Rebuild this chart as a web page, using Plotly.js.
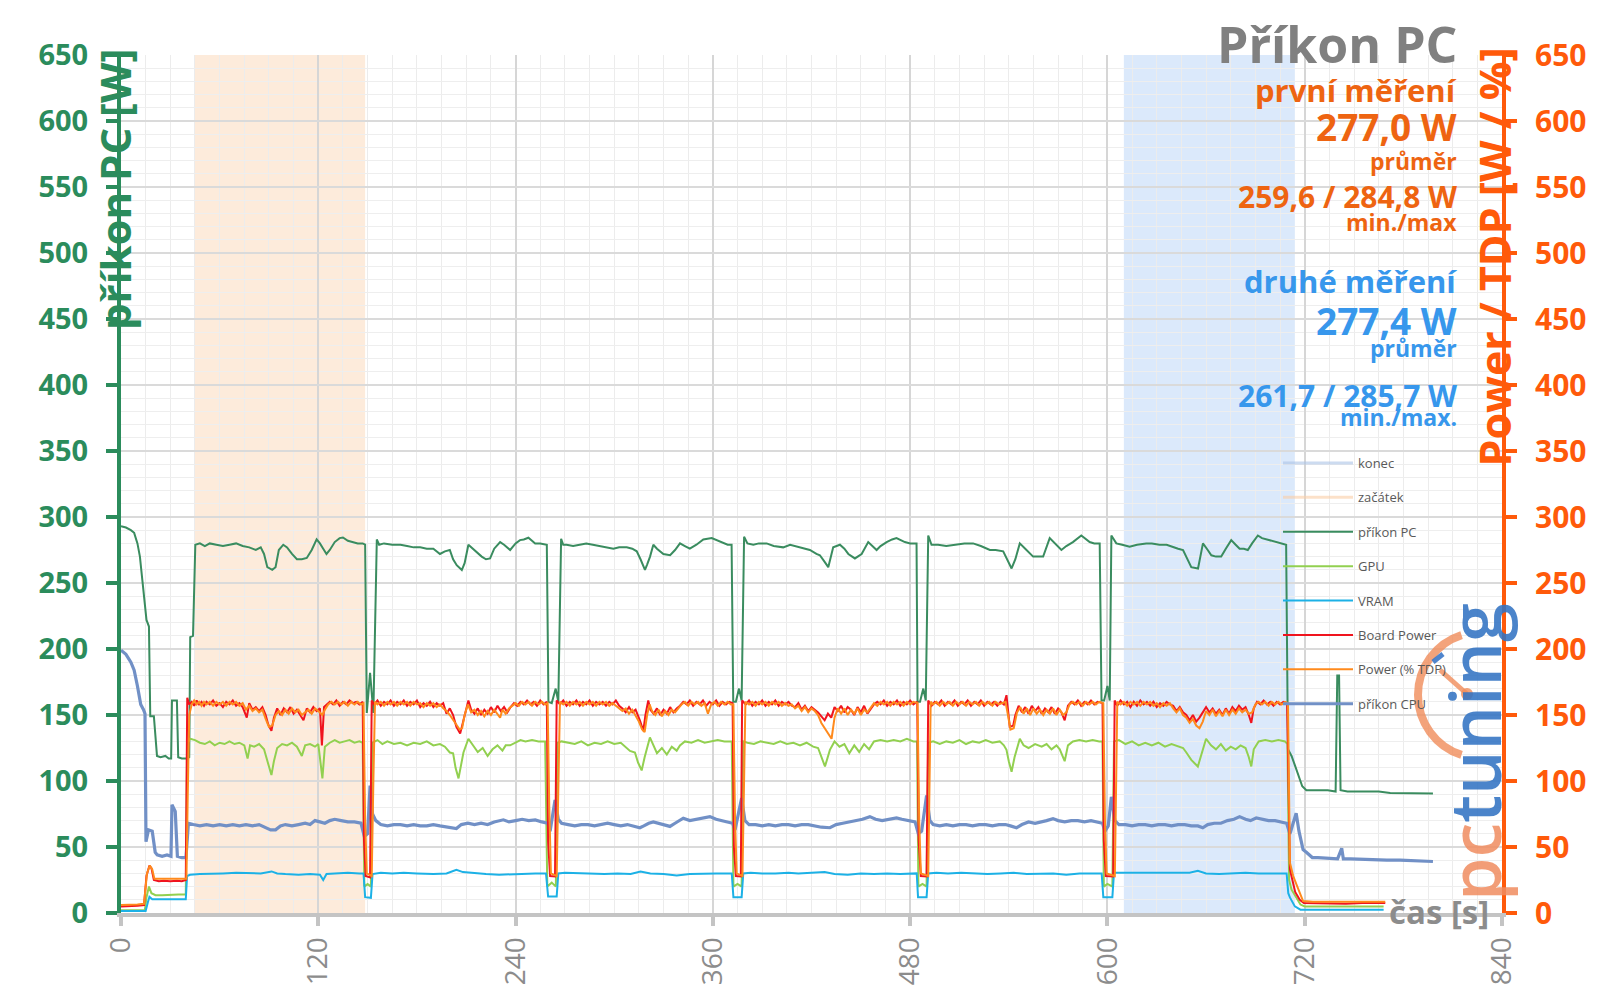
<!DOCTYPE html>
<html>
<head>
<meta charset="utf-8">
<script src="https://cdn.plot.ly/plotly-3.0.1.min.js"></script>
<style>html,body{margin:0;padding:0;background:#fff;}#chart{width:1600px;height:1008px;}</style>
</head>
<body>
<div id="chart"></div>
<script>
// ---------------- DATA ----------------
const seriesNames = ['konec', 'začátek', 'příkon PC', 'GPU', 'VRAM', 'Board Power', 'Power (% TDP)', 'příkon CPU'];
const xTicks = [0, 120, 240, 360, 480, 600, 720, 840];
const yTicks = [0, 50, 100, 150, 200, 250, 300, 350, 400, 450, 500, 550, 600, 650];
const zacatekSpan = [45, 148.5];   // seconds
const konecSpan = [610, 714];      // seconds

// [time s, W]
const pcPower = [[0,293],[3,292],[6,290],[8,288],[10,280],[11.5,270],[13,252],[14.5,234],[15.5,222],[17,217],[17.8,149],[20,149],[21.9,119],[24,118],[27,119],[29,117],[30.5,117],[31,161],[34,161],[34.8,118],[37,117],[40,117],[41.5,118],[42.1,209],[43.8,210],[45.2,279],
[48,280],[51,278],[54,280],[58,279],[62,278],[66,279],[70,280],[74,278],[78,277],[82,275],[85,277],[87,272],[89,262],[92,260],[94,262],[96,275],[98.7,279],[101,277],[104,272],[107,268],[110,268],[113,269],[116,275],[119,283],[121,280],[123,276],[125,272],[127,275],[130,281],[133,284],[135,284.5],[138,282],[141,281],[144,280],[147,280],[148.5,279],[149.5,151.5],[151.5,182],[153.5,151.5],[155.6,283],[157,279],[160,280],[165,279],[170,279],
[174,278],[178,277],[182,277],[186,276],[190,276],[194,272],[197,274],[200,275],[202,268],[204.2,263.5],[207.3,259.8],[209,265],[211.3,279],[214,276],[216.4,274],[219.4,270],[222,268],[224.5,268.6],[227,276],[230.6,281],[233,279],[236.7,275],[240,280],[242.7,282.5],[245,283],[247.8,284.3],[250,282],[251.9,280],[255,280],[259,279],[260,160],[262,159],[264.4,170],[266,160],[267.7,283.5],[269,279],[271,279],
[275,278],[279,279],[283,280],[287,279],[291,278],[295,277],[299.5,276],[303,277],[307.6,277],[311,276],[313.7,274],[316,268],[318.7,260],[320,264],[321.8,270],[323.8,279],[326,276],[329.9,272],[334,271],[337,275],[340,280],[343,278],[346,276],[350,279],[354.2,283],[359.3,284],[363,282],[366.4,280],[369,279],[371.4,279],[372.4,160],[374,160],[375.9,170],[377.5,161],[379,285],[381,280],[384.6,279],[388,280],
[392.7,280],[397,278],[402.8,277],[407,279],[413,277],[419,275],[423,272],[425.1,271],[428,266],[430.2,262],[433.2,277],[437.3,279],[440,276],[442.4,272],[446.4,268.6],[450.5,272],[454.5,281],[457,278],[459.6,275],[462,278],[465.7,281],[469,283],[471.7,284],[476.8,281],[480,280],[483.9,280],[484.5,160],[486,160],[488,170],[489.5,161],[491,286],[493,279],
[497,279],[502,278],[508.2,279],[513,280],[518.3,280],[523,278],[528.5,275],[532,275],[536.6,274],[539,268],[541.7,261],[544,268],[546.7,280],[550,276],[554.8,270],[558,270],[560.9,270],[564.9,284],[568,280],[572,275],[575,278],[579,281],[584.1,286],[587,283],[589.2,281],[592,280],[595.3,280],[596.4,161],[598,161],[600,172],[601.4,161],[602.4,286],
[605.4,280],[609,279],[613.5,277.4],[618,279],[623.6,280],[627,280],[631.7,279],[636,279],[639.9,277],[643,276],[646,275],[648.5,268],[651,262],[655.1,261],[658.1,280],[661,275],[663.2,271],[666,270],[669.2,270],[672,276],[675.3,282.5],[678,279],[680.4,276],[683,276],[685.4,275],[688,280],[691.5,286],[694,284],[698.6,282.5],[702,281],[706.7,280],[708.7,279],
[709.8,124],[712,119],[714,112],[716.4,104],[718.5,96],[721,93],[726,93],[730,92.5],[734,93],[738.8,92],[739.8,180],[740.9,180],[741.8,93],[746,92],[752,92],[758,91.5],[765,92],[772,91],[778,91],[785,90.5],[792,91],[798,90.5]];

const gpuPower = [[0,2],[14.5,2],[15.5,12],[17,20],[18.5,15],[21,13.5],[25,13.5],[30,14],[35,14],[39.4,14],[40.2,128],[42,132],[45,131],[48,129],[51,128],[54,130],[57,127],[60,129],[63,128],[66,130],[69,128],[72,129],[75,127],[77,117],[78.5,127],[81,126],[84,128],[87,124],[89,116],[91.5,104.5],[93,115],[95,125],[98,128],[101,127],[104,129],[107,126],[110,119],[112,127],[115,128],[118,126],[120,128],[122.5,102],[124,126],[127,129],[130,131],[133,129],[136,130],[139,131],[142,129],[145,130],[147,129],[148,20],[150,22],[152,20],[153,129],[156,131],[159,128],
[162,130],[166,128],[170,129],[174,127],[178,129],[182,128],[186,130],[190,127],[194,128],[197,126],[200,121.6],[202,121],[203.5,110],[205.3,102],[207,112],[208.3,121.6],[211.3,132],[214,127],[217,122],[220,125],[223,119],[226,124],[229,127],[232,123],[234,127],[236.7,127],[240,129],[243,131],[246,130],[250,131],[254,130],[258,130],[259.3,20],[262,23],[264.5,20],[265.5,129],[268,130],
[272,129],[276,128],[280,130],[284,127],[288,129],[292,128],[296,130],[300,128],[304,129],[307,126],[309.6,122.8],[312.6,121.6],[314.5,114],[316.7,108],[318.5,118],[321.7,133],[324,127],[326,121],[329,125],[332,120],[335,126],[338,123],[340,127],[343,130],[347,129],[351,131],[355,129],[359,130],[363,131],[367,130],[371.5,130],[372.5,20],[375,22],[377.5,20],[378.5,130],[381,129],
[385,128],[389,130],[393,129],[397,128],[401,130],[405,128],[409,129],[413,127],[417,129],[421,126],[424,125],[426,118],[428.2,111],[431.2,123.6],[434,130],[437,126],[440,128],[443,121],[446,127],[449,122],[452,128],[455,124],[458,130],[462,131],[466,130],[470,131],[474,130],[478,132],[482,130],[484.2,130],[485,20],[487.5,22],[490,20],[491,129],[494,130],
[498,128],[502,130],[506,129],[510,131],[514,128],[518,130],[522,129],[526,131],[530,129],[534.5,130],[537,127],[538.6,123.6],[540,115],[541.7,107],[543.5,118],[546.7,132],[549,127],[552,125],[556,128],[560,126],[563,128],[566,124],[569,127],[571,124],[574,115],[576,127],[579,130],[583,131],[587,130],[591,131],[595,130],[597,130],[597.8,20],[600,22],[603,20],[604,130],[607,131],
[611,128],[615,130],[619,127],[623,129],[627,127],[631,129],[635,126],[639,128],[643,126],[646,125],[648,121.6],[651,116],[655,111],[657,120],[660,132],[663,127],[666,124],[669,128],[672,123],[675,126],[678,124],[681,127],[684,125],[686,118],[687.5,111],[689,124],[692,130],[696,131],[700,130],[704,131],[708,130],[709.5,128],[710.5,25],[712,17.7],[714.5,12],[717.4,6.4],[720,5],[740,5],[768,5]];

const vramPower = [[0,1.5],[15,1.5],[16.3,8],[17.3,12.3],[19,10.5],[25,10.5],[30,10.5],[35,10.5],[39.4,10.5],[40.2,28],[42,29],[48,29.5],[55,29.5],[62,30],[70,30.5],[78,30.5],[85,30],[91.6,31.5],[95,30],[100,29.5],[108,29],[115,29.5],[121,29],[123,25],[125,29.5],[130,30],[138,30.5],[145,30],[147.5,30],[148.5,12],[152,11.5],[153,29.5],[158,30.5],
[165,30],[172,30.5],[180,30],[190,29.5],[198,30],[204,32.8],[208,31],[215,30],[222,29.5],[230,29],[238,29.5],[245,30],[252,30],[258.5,30],[259.8,12.5],[265,12.5],[266,30],[270,30.5],
[278,30],[286,30],[294,29.5],[302,30],[310,29.5],[316,31.5],[322,30],[330,29.5],[338,28.5],[346,29.5],[354,30],[362,30],[371.5,30],[372.5,12],[377.5,12],[378.5,30],[383,30.5],
[390,30],[398,30],[406,30.5],[412,30],[420,30.5],[428,31],[434,29.5],[442,29],[450,30],[458,29.5],[466,30],[474,29.5],[484,30],[484.8,12],[490,12],[491,30],[496,30.5],
[503,30],[511,30.5],[519,30],[527,29.5],[535,30],[543,30.5],[551,29.5],[559,30],[567,30],[575,29],[583,30],[591,30],[596.5,30],[597.5,12],[603,12],[604,30.5],[610,30.5],
[618,30],[626,30.5],[634,30],[642,30],[650,30.5],[655,32],[660,30],[668,29.5],[676,30],[684,30.5],[692,30],[700,30],[709,30],[710,15],[711,11.8],[714,5],[717.4,2.5],[740,2.5],[768,2.5]];

const boardPower = [[0,5],[5,5],[10,5.5],[14,6],[15.5,28],[17.3,36],[18.5,34],[20,25],[23,24],[26,24.5],[30,24],[34,24.5],[37,24],[39.4,25],[40.3,163],[41.5,158],[43,160],[44.5,157],[46,161],[47.5,158],[49,160],[50.5,157],[52,160],[54,158],[56,161],[58,157],[60,159],[62,156],[64,160],[66,158],[68,161],[70,157],[72,159],[74,156],[76.5,148],[78,159],[80,154],[82,156],[84,153],[86,156],[88,150],[89.5,143],[91.5,138],[93,148],[95,155],[97,150],[99,155],[101,152],[103,156],[105,151],[107,154],[109,150],[111,146],[113,155],[115,152],[117,156],[119,153],[121,155],[122.2,127],[123.5,156],[125,158],[127,160],[129,158],[131,161],[133,157],[135,160],[137,158],[139,161],[141,159],[143,160],[145,158],[147,160],[147.8,55],[148.8,28],[151.5,27],[152.5,161],
[154,158],[156,161],[158,157],[160,160],[162,158],[164,161],[166,157],[168,160],[170,158],[172,161],[174,157],[176,160],[178,158],[180,161],[182,156],[184,159],[186,157],[188,160],[190,156],[192,159],[194,157],[196,159],[198,151],[200,155],[202,150],[204,141],[206.3,136],[208.3,146],[210,155],[211.3,161],[213,154],[215,151],[217,155],[219,150],[221,154],[223,151],[225,156],[227,152],[229,157],[231,153],[233,156],[235,152],[237,156],[239,159],[241,157],[243,160],[245,158],[247,161],[249,158],[251,160],[253,157],[255,161],[257,158],[259,160],[259.8,54],[261,28],[264,27.7],[265,161],
[267,158],[269,161],[271,157],[273,160],[275,158],[277,161],[279,157],[281,160],[283,158],[285,161],[287,157],[289,160],[291,158],[293,160],[295,157],[297,160],[299,158],[301,161],[303,157],[305,155],[307,152],[309,156],[311,152],[313,154],[315.6,146],[317.7,138],[319,150],[320.7,161],[322,154],[324,151],[326,155],[328,150],[330,154],[332,151],[334,156],[336,152],[338,155],[340,157],[342,160],[344,158],[346,161],[348,157],[350,160],[352,158],[354,161],[356,157],[358,160],[360,158],[362,161],[364,157],[366,160],[368,158],[370,160],[372,159],[372.8,50],[374,28],[377,27.7],[377.8,161],
[380,158],[382,161],[384,157],[386,160],[388,158],[390,161],[392,157],[394,160],[396,158],[398,161],[400,157],[402,160],[404,158],[406,160],[408,157],[410,156],[412,159],[414,154],[416,157],[418,153],[420,156],[422,154],[424,152],[426,149],[428,146],[430,151],[432,148],[434,156],[436,153],[438,157],[440,152],[442,156],[444,154],[446,150],[448,156],[450,152],[452,157],[454,151],[456,155],[458,158],[460,160],[462,158],[464,161],[466,157],[468,160],[470,158],[472,161],[474,157],[476,160],[478,158],[480,161],[482,158],[484.3,160],[485.2,55],[486.5,28],[490,27.7],[491,161],
[493,157],[495,160],[497,158],[499,161],[501,157],[503,160],[505,158],[507,161],[509,157],[511,160],[513,158],[515,161],[517,157],[519,160],[521,158],[523,161],[525,157],[527,160],[529,158],[531,160],[533,157],[535,160],[537,158],[538.6,165],[540.6,141],[542.7,142],[544,150],[546,157],[548,152],[550,156],[552,151],[554,157],[556,153],[558,156],[560,151],[562,155],[564,152],[566,156],[568,151],[570,155],[572,152],[574,146],[576,157],[578,160],[580,158],[582,161],[584,157],[586,160],[588,158],[590,161],[592,158],[594,160],[597,159],[597.8,55],[599,28],[603.5,27.7],[604.4,161],
[606,157],[608,161],[610,158],[612,160],[614,156],[616,160],[618,157],[620,161],[622,158],[624,160],[626,157],[628,160],[630,156],[632,159],[634,157],[636,160],[638,158],[640,157],[642,153],[644,156],[646,152],[648,150],[650,146],[652,150],[654,145],[656,148],[658,152],[660,156],[662,152],[664,155],[666,151],[668,154],[670,150],[672,155],[674,151],[676,156],[678,153],[680,157],[682,154],[684,156],[686,150],[687.5,144],[689,155],[691,160],[693,158],[695,161],[697,158],[699,160],[701,157],[703,160],[705,158],[707,160],[709.3,159],[710.5,60],[711,33],[714.2,16],[717,10],[719.5,7.6],[725,7.5],[735,7.5],[745,7],[755,7.5],[769,7.5]];

const tdpPower = [[0,6],[5,6],[10,6.5],[14,7],[15.8,30],[17.5,36],[19,33],[20.3,26],[24,26],[28,25.5],[32,26],[36,25.5],[39.8,26],[40.6,90],[41.5,150],[43,158],[44.5,161],[46,158],[47.5,160],[49,157],[50.5,160],[52,158],[54,160],[56,157],[58,160],[60,158],[62,160],[64,157],[66,160],[68,158],[70,160],[72,157],[74,159],[76,154],[78,157],[80,153],[82,155],[84,152],[86,154],[88,147],[90,141],[92,142],[94,150],[96,153],[98,150],[100,154],[102,151],[104,155],[106,152],[108,154],[110,150],[112,152],[114,154],[116,151],[118,155],[120,153],[122.5,150],[124,154],[126,158],[128,160],[130,158],[132,160],[134,158],[136,160],[138,157],[140,160],[142,158],[144,160],[146,158],[147.5,159],[148.5,70],[149.5,30],[152.5,28],[153.5,100],[154.5,160],
[156,158],[158,160],[160,157],[162,160],[164,158],[166,160],[168,157],[170,160],[172,158],[174,160],[176,157],[178,160],[180,158],[182,159],[184,156],[186,159],[188,157],[190,159],[192,156],[194,158],[196,155],[198,153],[200,150],[202,146],[204,143],[206,139],[207.5,140],[209,150],[211,158],[213,152],[215,154],[217,150],[219,153],[221,149],[223,153],[225,150],[227,154],[229,151],[230.6,148],[232,154],[234,151],[236,155],[238,157],[240,159],[242,157],[244,160],[246,158],[248,160],[250,157],[252,160],[254,158],[256,160],[258,158],[259.5,159],[260.5,80],[261.5,30],[265,28],[266,90],[267,160],
[269,158],[271,160],[273,157],[275,160],[277,158],[279,160],[281,157],[283,160],[285,158],[287,160],[289,157],[291,160],[293,158],[295,160],[297,157],[299,159],[301,157],[303,155],[305,153],[307,155],[309,151],[311,154],[313,150],[315,145],[317,139],[318.5,137],[320,150],[321.5,158],[323,153],[325,150],[327,154],[329,149],[331,153],[333,150],[335,154],[337,152],[339,155],[341,158],[343,160],[345,157],[347,160],[349,158],[351,160],[353,157],[355,159],[357,151],[359,158],[361,160],[363,157],[365,160],[367,158],[369,160],[371,158],[372.5,158],[373.5,70],[374.5,30],[378,28],[379,100],[379.8,160],
[382,158],[384,160],[386,157],[388,160],[390,158],[392,160],[394,157],[396,160],[398,158],[400,160],[402,157],[404,159],[406,157],[408,158],[410,155],[412,157],[414,153],[416,156],[418,152],[420,155],[422,153],[424,150],[426,144],[428,140],[430,136],[432.2,132],[434,148],[436,155],[438,151],[440,155],[442,150],[444,154],[446,151],[448,155],[450,150],[452,154],[454,152],[456,156],[458,159],[460,157],[462,160],[464,158],[466,160],[468,157],[470,160],[472,158],[474,160],[476,157],[478,160],[480,158],[482,160],[484.5,159],[485.5,70],[486.5,30],[491,28],[491.8,100],[492.5,160],
[494,158],[496,160],[498,157],[500,160],[502,158],[504,160],[506,157],[508,160],[510,158],[512,160],[514,157],[516,160],[518,158],[520,160],[522,157],[524,160],[526,158],[528,160],[530,157],[532,160],[534,158],[536,159],[538,160],[539.5,150],[541,139],[543,140],[545,152],[547,156],[549,151],[551,155],[553,150],[555,155],[557,151],[559,154],[561,150],[563,154],[565,151],[567,155],[569,150],[571,154],[573,150],[575,152],[577,158],[579,160],[581,158],[583,160],[585,157],[587,160],[589,158],[591,160],[593,158],[595,160],[597.5,159],[598.5,70],[599.5,30],[604.5,28],[605.2,100],[606,160],
[608,158],[610,160],[612,157],[614,160],[616,158],[618,160],[620,157],[622,160],[624,158],[626,160],[628,157],[630,159],[632,156],[634,159],[636,157],[638,159],[640,155],[642,152],[644,155],[646,150],[648,148],[650,144],[652,147],[654,142],[656,140],[658,145],[660,153],[662,150],[664,154],[666,149],[668,153],[670,149],[672,154],[674,150],[676,154],[678,151],[680,155],[682,152],[684,154],[686,151],[688,152],[690,158],[692,160],[694,158],[696,160],[698,157],[700,160],[702,158],[704,160],[706,158],[708,160],[709.8,159],[711,38],[713,28],[715.5,20],[719,9],[725,8.5],[735,8.5],[745,8],[755,8.5],[769,8.5]];

const cpuPower = [[0,199],[3,196],[6,190],[8,184],[10,172],[12,158],[13.7,154],[14.6,151],[15.2,54],[16.7,63],[19,62],[20.8,46],[22,44],[25,43],[28,44],[30.4,43],[31,82],[32,80],[33,77],[34.3,43],[37,42],[39.5,42],[41,68],
[44,67],[48,66],[52,67],[56,66],[60,67],[64,66],[68,67],[72,66],[76,67],[80,66],[84,67],[88,65],[91,63],[94,63],[97,66],[100,67],[104,66],[108,67],[112,68],[115,67],[118,70],[121,69],[124,68],[127,70],[130,71],[134,70],[138,69],[142,69],[146,68],[148,58],[150,60],[151.5,96.5],[153,75],[155,70],[158,67],
[162,66],[166,67],[170,67],[174,66],[178,67],[182,66],[186,66],[190,67],[194,66],[198,65],[201,64.6],[204,64],[207,67],[211,68],[215,67],[219,68],[223,67],[227,69],[232.6,70.6],[236,69],[240,70],[244,71],[248,70],[252,70.5],[256,69],[259.5,68],[261,62],[264,85.7],[266,71],[268,68],
[272,67],[276,66],[280,67],[284,67],[288,66],[292,67],[296,68],[300,67],[304,66],[308,67],[312,66],[315.6,64.6],[318,66],[321,68],[323.8,69],[327,68],[330,67],[333.9,65.6],[337,68],[342,71.8],[346,70],[350,71],[354,72],[358.2,73],[362,71],[366,70],[369,69],[372,68],[373.5,63],[377.5,87],[379.5,70],[382,67],
[386,67],[390,66],[394,67],[398,66],[402,67],[406,67],[410,66],[414,67],[418,67],[422,66],[426,65],[431.2,64.6],[435,67],[439,68],[443,69],[447,70],[451,71],[455.5,73],[459,71],[463,70],[467,71],[471.7,72],[475,71],[479,70],[483,69],[485,60],[487,62],[490,89],[492,70],[494,67],
[498,66],[502,67],[506,66],[510,67],[514,67],[518,66],[522,67],[526,67],[530,66],[534,67],[538,67],[541,66],[544.7,64.6],[548,67],[552,69],[556,68],[560,69],[563,70],[566.9,71.5],[570,70],[574,69],[578,70],[582,70],[586,69],[590,70],[594,69],[597,68],[598.5,62],[600.5,66],[602.4,88],[604.5,70],[607,67],
[611,67],[615,66],[619,67],[623,67],[627,66],[631,67],[635,67],[639,66],[643,67],[647,67],[651,66],[655,66],[658,64.6],[661,67],[665,68],[669,68],[673,70],[677,71],[680.4,73],[684,71],[687,70],[690.5,72],[694,71],[698,70],[702,70],[706,69],[709,68],[711,60],[714.8,75.6],[716.5,62],[719,48],[721,46],[724.6,42],[728,42],[732,41.5],[736,41],[740,41],[742.5,49],[743.5,41],[748,41],[755,40.5],[762,40],[770,40],[778,40],[785,39.5],[792,39.5],[798,39]];

// Text block
const statTexts = ['Příkon PC', 'první měření', '277,0 W', 'průměr', '259,6 / 284,8 W', 'min./max',
                   'druhé měření', '277,4 W', 'průměr', '261,7 / 285,7 W', 'min./max.'];

// ---------------- STYLE ----------------
const FONT = 'Open Sans, Noto Sans, sans-serif';
const GREEN_AX = '#2b8c5c';
const ORANGE_AX = '#ff5a0a';
const TXT_OR = '#ee6411';
const TXT_BL = '#3797ec';
const L = 121, R = 1502, T = 55, B = 913;
const px = X => (X - L) / (R - L);
const py = Y => (B - Y) / (B - T);

const lineColors = {'příkon PC':'#3a8c5f', 'GPU':'#92d050', 'VRAM':'#1cb1e6', 'Board Power':'#f0141e', 'Power (% TDP)':'#ff8a1c', 'příkon CPU':'#7190c6'};
const lineWidths = {'příkon PC':2, 'GPU':2, 'VRAM':2, 'Board Power':2, 'Power (% TDP)':2, 'příkon CPU':3.2};
const lineAxis = {'příkon PC':'y', 'GPU':'y', 'VRAM':'y', 'Board Power':'y2', 'Power (% TDP)':'y2', 'příkon CPU':'y'};
const seriesData = {'příkon PC':pcPower, 'GPU':gpuPower, 'VRAM':vramPower, 'Board Power':boardPower, 'Power (% TDP)':tdpPower, 'příkon CPU':cpuPower};

const traces = [];
// legend proxies for the shaded spans
traces.push({type:'scatter', mode:'lines', name:seriesNames[0], x:[null], y:[null], line:{color:'rgba(170,195,230,0.6)', width:3}, legendgroup:'g0'});
traces.push({type:'scatter', mode:'lines', name:seriesNames[1], x:[null], y:[null], line:{color:'rgba(250,205,165,0.6)', width:3}, legendgroup:'g1'});
seriesNames.slice(2).forEach((n, i) => {
  const d = seriesData[n];
  traces.push({type:'scatter', mode:'lines', name:n, x:d.map(p => p[0]), y:d.map(p => p[1]), yaxis:lineAxis[n],
    line:{color:lineColors[n], width:lineWidths[n]}, legendgroup:'g'+(i+2), hoverinfo:'skip'});
});

// Shapes: shaded spans + logo
const shapes = [
  {type:'rect', xref:'x', yref:'paper', x0:zacatekSpan[0], x1:zacatekSpan[1], y0:0, y1:1, fillcolor:'#fdebdb', line:{width:0}, layer:'below'},
  {type:'rect', xref:'x', yref:'paper', x0:konecSpan[0], x1:konecSpan[1], y0:0, y1:1, fillcolor:'#dbe9fb', line:{width:0}, layer:'below'}
];
// logo clock arc (decoration)
(function(){
  const cx = 1481, cy = 695, r = 63;
  const P = (X, Y) => px(X).toFixed(5) + ',' + py(Y).toFixed(5);
  const rad = d => d * Math.PI / 180;
  const pt = a => [cx + r * Math.cos(rad(a)), cy - r * Math.sin(rad(a))];
  const seg = (a0, a1) => {
    const k = 4 / 3 * Math.tan(rad(a1 - a0) / 4) * r;
    const p0 = pt(a0), p3 = pt(a1);
    const p1 = [p0[0] - k * Math.sin(rad(a0)), p0[1] - k * Math.cos(rad(a0))];
    const p2 = [p3[0] + k * Math.sin(rad(a1)), p3[1] + k * Math.cos(rad(a1))];
    return ' C' + P(p1[0], p1[1]) + ' ' + P(p2[0], p2[1]) + ' ' + P(p3[0], p3[1]);
  };
  const start = pt(108);
  const path = 'M' + P(start[0], start[1]) + seg(108, 180) + seg(180, 252);
  const col = 'rgba(240,140,90,0.8)';
  shapes.push({type:'path', xref:'paper', yref:'paper', path:path, line:{color:col, width:8}, layer:'above'});
  const nx = 1467, ny = 694;
  shapes.push({type:'line', xref:'paper', yref:'paper', x0:px(nx), y0:py(ny), x1:px(nx - 27), y1:py(ny - 24), line:{color:col, width:5}, layer:'above'});
  shapes.push({type:'circle', xref:'paper', yref:'paper', x0:px(nx - 6), x1:px(nx + 6), y0:py(ny + 6), y1:py(ny - 6), fillcolor:col, line:{width:0}, layer:'above'});
  shapes.push({type:'line', xref:'paper', yref:'paper', x0:px(nx - 34), y0:py(ny - 32), x1:px(nx - 24), y1:py(ny - 40), line:{color:'rgba(60,120,200,0.9)', width:5}, layer:'above'});
})();

// Annotations
const statY = [44, 90, 126, 161, 197, 222, 281, 320, 348, 395, 417];
const statSize = [50, 31, 37, 23, 30, 23, 31, 37, 23, 30, 23];
const statColor = ['#808080', TXT_OR, TXT_OR, TXT_OR, TXT_OR, TXT_OR, TXT_BL, TXT_BL, TXT_BL, TXT_BL, TXT_BL];
const annotations = statTexts.map((t, i) => ({
  text:t, xref:'paper', yref:'paper', x:px(1459), y:py(statY[i]), xanchor:'right', yanchor:'middle', showarrow:false,
  font:{family:FONT, size:statSize[i], color:statColor[i], weight:700}
}));
annotations.push({text:'příkon PC [W]', xref:'paper', yref:'paper', x:px(114), y:py(46), xanchor:'center', yanchor:'top', textangle:-90, showarrow:false,
  font:{family:FONT, size:42, color:GREEN_AX, weight:700}});
annotations.push({text:'Power / TDP [W / %]', xref:'paper', yref:'paper', x:px(1494), y:py(46), xanchor:'center', yanchor:'top', textangle:-90, showarrow:false,
  font:{family:FONT, size:43, color:ORANGE_AX, weight:700}});
annotations.push({text:'čas [s]', xref:'paper', yref:'paper', x:px(1387), y:py(911), xanchor:'left', yanchor:'middle', showarrow:false,
  font:{family:FONT, size:33, color:'#8c8c8c', weight:700}});
annotations.push({text:'<span style="color:rgba(240,140,95,0.85)">pc</span><span style="color:rgba(50,115,195,0.88)">tuning</span>', xref:'paper', yref:'paper', x:px(1474), y:py(752), xanchor:'center', yanchor:'middle', textangle:-90, showarrow:false,
  font:{family:FONT, size:70, color:'#3a78c2', weight:600}});

const tickAxisCommon = {range:[0,650], overlaying:'y', anchor:'x', showgrid:false, zeroline:false, showticklabels:false, showline:false, fixedrange:true, tickmode:'linear', tick0:0};

const layout = {
  width:1600, height:1008,
  margin:{l:L, r:1600 - R, t:T, b:1008 - B, pad:0},
  paper_bgcolor:'#ffffff', plot_bgcolor:'#ffffff',
  font:{family:FONT},
  showlegend:true,
  legend:{x:px(1278), y:py(448), xanchor:'left', yanchor:'top', bgcolor:'rgba(0,0,0,0)', borderwidth:0,
    font:{family:FONT, size:13, color:'#595959'}, tracegroupgap:14.5, itemwidth:70, traceorder:'grouped'},
  xaxis:{range:[0,840], tickmode:'array', tickvals:xTicks, ticktext:xTicks.map(String), tickangle:-90,
    tickfont:{family:FONT, size:28, color:'#8c8c8c'}, ticks:'outside', ticklen:9, tickwidth:4, tickcolor:'#c4c4c4',
    ticklabeloverflow:'allow',
    showline:true, linecolor:'#c4c4c4', linewidth:4, showgrid:true, gridcolor:'#d6d6d6', gridwidth:2, zeroline:false,
    minor:{dtick:15, tick0:0, showgrid:true, gridcolor:'#ececec', gridwidth:1}, fixedrange:true},
  yaxis:{range:[0,650], tickmode:'array', tickvals:yTicks, ticktext:yTicks.map(String),
    tickfont:{family:FONT, size:29, color:GREEN_AX, weight:700}, ticks:'outside', ticklen:11, tickwidth:4, tickcolor:GREEN_AX,
    ticklabelstandoff:12, ticklabeloverflow:'allow',
    showline:true, linecolor:GREEN_AX, linewidth:4, showgrid:true, gridcolor:'#dadada', gridwidth:2, zeroline:false,
    minor:{dtick:10, tick0:0, showgrid:true, gridcolor:'#eeeeee', gridwidth:1}, fixedrange:true},
  yaxis2:{range:[0,650], overlaying:'y', side:'right', anchor:'x', tickmode:'array', tickvals:yTicks, ticktext:yTicks.map(String),
    showticklabels:true, tickfont:{family:FONT, size:30, color:ORANGE_AX, weight:700}, ticks:'outside', ticklen:11, tickwidth:4, tickcolor:ORANGE_AX,
    ticklabelstandoff:12, ticklabeloverflow:'allow', showline:true, linecolor:ORANGE_AX, linewidth:4,
    showgrid:false, zeroline:false, fixedrange:true},
  yaxis3:Object.assign({}, tickAxisCommon, {side:'left', dtick:5, ticks:'outside', ticklen:7, tickwidth:3, tickcolor:GREEN_AX}),
  yaxis4:Object.assign({}, tickAxisCommon, {side:'left', dtick:50, ticks:'inside', ticklen:11, tickwidth:4, tickcolor:GREEN_AX}),
  yaxis5:Object.assign({}, tickAxisCommon, {side:'right', dtick:50, ticks:'inside', ticklen:12, tickwidth:4, tickcolor:ORANGE_AX}),
  yaxis6:Object.assign({}, tickAxisCommon, {side:'right', dtick:5, ticks:'inside', ticklen:7, tickwidth:3, tickcolor:ORANGE_AX}),
  shapes:shapes,
  annotations:annotations
};

Plotly.newPlot('chart', traces, layout, {staticPlot:true, displayModeBar:false});
</script>
</body>
</html>
